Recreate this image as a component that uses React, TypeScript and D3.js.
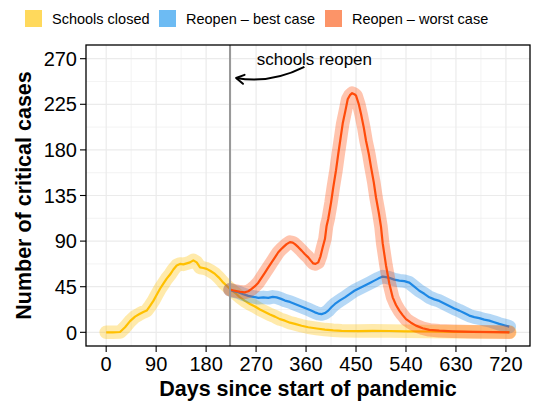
import * as d3 from "d3";

const seriesLabels = ["Schools closed", "Reopen – best case", "Reopen – worst case"];
const lineColors = ["#FFC000", "#1E88E5", "#FF4B0A"];
const keyColors = ["#FFD95C", "#6DBBF3", "#FC9468"];

const xTicks = [0, 90, 180, 270, 360, 450, 540, 630, 720];
const yTicks = [0, 45, 90, 135, 180, 225, 270];
const reopenDay = 223;

const daysClosed = [0, 12, 25, 34, 43, 52, 60, 67, 73, 79, 85, 91, 97, 103, 109, 115, 121, 127, 133, 139, 145, 151, 157, 163, 169, 175, 181, 188, 196, 203, 211, 217, 223, 232, 241, 250, 259, 268, 277, 286, 295, 304, 313, 322, 331, 340, 352, 364, 379, 394, 409, 424, 454, 480, 510, 540, 580, 630, 680, 727];
const casesClosed = [0, 0, 0.3, 5, 11, 15.5, 18, 20, 21.5, 26, 31, 37, 43, 48, 53, 57, 62, 66, 67.5, 67, 68, 69, 71, 69, 64, 63.5, 62.6, 60.5, 57.6, 54, 49, 46, 42.8, 39, 34.5, 31, 28, 25.5, 22.5, 20, 17.5, 15.5, 13, 11.5, 9.5, 8.3, 6.5, 5, 3.8, 2.7, 2, 1.5, 1.2, 1.5, 1.3, 1, 0.8, 0.5, 0.3, 0.2];

const daysBest = [223, 230, 238, 247, 256, 265, 274, 283, 292, 300, 307, 315, 322, 331, 340, 349, 358, 367, 376, 382, 388, 394, 400, 406, 412, 421, 430, 439, 447, 456, 465, 474, 483, 490, 498, 504, 510, 519, 528, 537, 546, 555, 564, 573, 582, 591, 600, 609, 618, 627, 636, 645, 654, 663, 672, 681, 690, 699, 708, 717, 726];
const casesBest = [42, 40.5, 39.5, 37.5, 36, 35, 34, 34.5, 34, 35, 34.5, 33, 31.3, 30, 28, 26, 24, 22, 19.7, 18.5, 18, 19, 21.4, 25, 28, 31.5, 34.5, 38, 41, 43.5, 46, 48.5, 51, 53, 55, 54.5, 53.7, 52, 51, 50.5, 49, 45, 41, 38, 34.5, 32.5, 31, 28.5, 26, 23.5, 21.4, 19, 16.5, 15, 14, 12.5, 11.5, 10, 8.3, 7, 5.6];

const daysWorst = [223, 232, 241, 250, 256, 262, 268, 274, 280, 286, 292, 298, 304, 310, 315, 319, 325, 331, 336, 340, 346, 352, 358, 364, 369, 373, 377, 382, 386, 390, 394, 397, 400, 405, 409, 414, 418, 422, 426, 431, 435, 439, 443, 447, 450, 455, 459, 464, 468, 473, 477, 482, 486, 491, 495, 498, 504, 510, 516, 522, 528, 534, 540, 549, 558, 570, 582, 600, 624, 660, 700, 726];
const casesWorst = [42, 41, 40, 39.5, 40.5, 42.8, 45.5, 49, 54, 59, 64, 69, 74, 79, 82, 84, 87, 89, 88.5, 87, 84, 80.6, 77, 74, 70.5, 68, 67.5, 69, 75, 84, 92, 105, 112, 128, 143, 160, 176, 191, 206, 219, 230, 234, 236, 235, 233.6, 225, 215.5, 202, 189, 176, 163, 148, 133, 118, 104, 88, 66, 48, 34.5, 27, 21.4, 17, 13, 9.5, 6.6, 4, 2.4, 1.6, 1, 0.5, 0.2, 0];

const seriesDays = [daysClosed, daysBest, daysWorst];
const seriesCases = [casesClosed, casesBest, casesWorst];

const font = "'Liberation Sans', Arial, Helvetica, sans-serif";

export default function App() {
  const width = 533;
  const height = 404;
  const panel = { left: 86, right: 530, top: 45, bottom: 346 };

  const xData = [0, 727];
  const yData = [0, 270];
  const xPad = (xData[1] - xData[0]) * 0.05;
  const yPad = (yData[1] - yData[0]) * 0.05;
  const x = d3.scaleLinear().domain([xData[0] - xPad, xData[1] + xPad]).range([panel.left, panel.right]);
  const y = d3.scaleLinear().domain([yData[0] - yPad, yData[1] + yPad]).range([panel.bottom, panel.top]);

  const xMinor = xTicks.slice(0, -1).map((t, i) => (t + xTicks[i + 1]) / 2);
  const yMinor = yTicks.slice(0, -1).map((t, i) => (t + yTicks[i + 1]) / 2);

  const line = d3
    .line<[number, number]>()
    .x((d) => x(d[0]))
    .y((d) => y(d[1]))
    .curve(d3.curveLinear);

  // curved arrow, in data units
  const arrowFrom: [number, number] = [357, 262];
  const arrowCtrl: [number, number] = [295, 245];
  const arrowTo: [number, number] = [234, 251];
  const ax = x(arrowTo[0]);
  const ay = y(arrowTo[1]);
  const angle = Math.atan2(ay - y(arrowCtrl[1]), ax - x(arrowCtrl[0]));
  const headLen = 9;
  const spread = Math.PI / 6;
  const head = [angle + Math.PI - spread, angle + Math.PI + spread].map((a) => [ax + headLen * Math.cos(a), ay + headLen * Math.sin(a)]);

  const midX = (panel.left + panel.right) / 2;
  const midY = (panel.top + panel.bottom) / 2;

  return (
    <svg width={width} height={height} viewBox={`0 0 ${width} ${height}`} style={{ position: "absolute", left: 0, top: 0, background: "#fff" }} fontFamily={font}>
      <rect width={width} height={height} fill="#fff" />
      {/* grid */}
      {xMinor.map((t) => (
        <line key={`xm${t}`} x1={x(t)} x2={x(t)} y1={panel.top} y2={panel.bottom} stroke="#EEEEEE" strokeWidth={0.7} />
      ))}
      {yMinor.map((t) => (
        <line key={`ym${t}`} x1={panel.left} x2={panel.right} y1={y(t)} y2={y(t)} stroke="#EEEEEE" strokeWidth={0.7} />
      ))}
      {xTicks.map((t) => (
        <line key={`xg${t}`} x1={x(t)} x2={x(t)} y1={panel.top} y2={panel.bottom} stroke="#EBEBEB" strokeWidth={1.2} />
      ))}
      {yTicks.map((t) => (
        <line key={`yg${t}`} x1={panel.left} x2={panel.right} y1={y(t)} y2={y(t)} stroke="#EBEBEB" strokeWidth={1.2} />
      ))}

      {/* series */}
      {seriesDays.map((days, i) => {
        const pts = days.map((d, j) => [d, seriesCases[i][j]] as [number, number]);
        const path = line(pts) ?? "";
        return (
          <g key={seriesLabels[i]}>
            <path d={path} fill="none" stroke={lineColors[i]} strokeOpacity={0.33} strokeWidth={13.5} strokeLinecap="round" strokeLinejoin="round" />
            <path d={path} fill="none" stroke={lineColors[i]} strokeWidth={2.2} strokeLinejoin="round" />
          </g>
        );
      })}

      {/* reopening line */}
      <line x1={x(reopenDay)} x2={x(reopenDay)} y1={panel.top} y2={panel.bottom} stroke="#999999" strokeWidth={2} />

      {/* annotation */}
      <text x={x(375)} y={y(270)} dy="0.35em" textAnchor="middle" fontSize={17} fill="#000">
        schools reopen
      </text>
      <path
        d={`M${x(arrowFrom[0])},${y(arrowFrom[1])} Q${x(arrowCtrl[0])},${y(arrowCtrl[1])} ${ax},${ay}`}
        fill="none"
        stroke="#000"
        strokeWidth={2}
      />
      <path d={`M${head[0][0]},${head[0][1]} L${ax},${ay} L${head[1][0]},${head[1][1]}`} fill="none" stroke="#000" strokeWidth={2} strokeLinecap="round" strokeLinejoin="round" />

      {/* panel border */}
      <rect x={panel.left} y={panel.top} width={panel.right - panel.left} height={panel.bottom - panel.top} fill="none" stroke="#000" strokeWidth={1.3} />

      {/* axes */}
      {xTicks.map((t) => (
        <g key={`xt${t}`}>
          <line x1={x(t)} x2={x(t)} y1={panel.bottom} y2={panel.bottom + 6} stroke="#000" strokeWidth={1.1} />
          <text x={x(t)} y={panel.bottom + 25} textAnchor="middle" fontSize={20} fill="#000">
            {t}
          </text>
        </g>
      ))}
      {yTicks.map((t) => (
        <g key={`yt${t}`}>
          <line x1={panel.left - 6} x2={panel.left} y1={y(t)} y2={y(t)} stroke="#000" strokeWidth={1.1} />
          <text x={panel.left - 9} y={y(t)} dy="0.36em" textAnchor="end" fontSize={20} fill="#000">
            {t}
          </text>
        </g>
      ))}
      <text x={midX} y={396} textAnchor="middle" fontSize={21.5} fontWeight="bold" fill="#000">
        Days since start of pandemic
      </text>
      <text transform={`translate(31,${midY}) rotate(-90)`} textAnchor="middle" fontSize={21.5} fontWeight="bold" fill="#000">
        Number of critical cases
      </text>

      {/* legend */}
      {seriesLabels.map((label, i) => {
        const keyX = [25, 159, 325][i];
        return (
          <g key={`lg${label}`}>
            <rect x={keyX} y={10} width={17} height={17} fill={keyColors[i]} />
            <text x={keyX + 27} y={18.5} dy="0.35em" fontSize={14.5} fill="#000">
              {label}
            </text>
          </g>
        );
      })}
    </svg>
  );
}
